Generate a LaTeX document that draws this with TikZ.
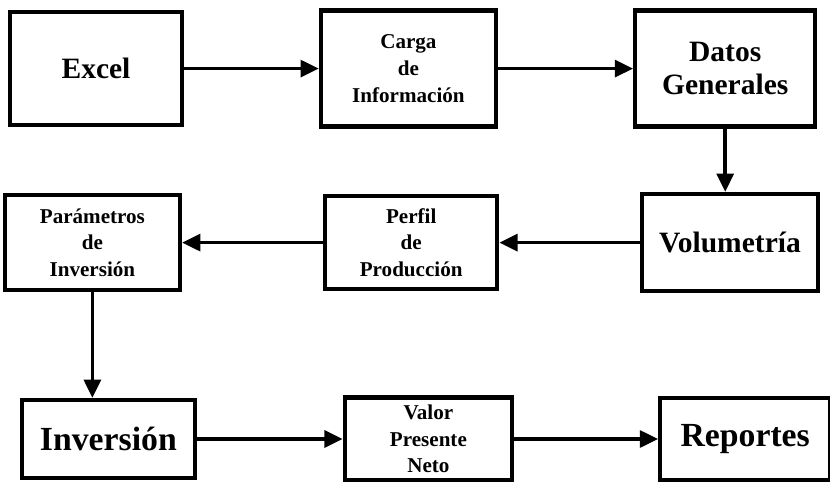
\documentclass[tikz,border=0pt]{standalone}
\usepackage{fontspec}
\setmainfont{Liberation Serif}
\usepackage{tikz}
\usetikzlibrary{arrows.meta,positioning}

\begin{document}
\begin{tikzpicture}[
  stage/.style={rectangle, draw=black, line width=3pt, fill=white, align=center, inner sep=2pt},
  flow/.style={-{Triangle[length=13pt,width=12pt]}, line width=2.5pt},
  bigtext/.style={font=\fontsize{24}{28}\selectfont\bfseries},
  midtext/.style={font=\fontsize{21}{24}\selectfont\bfseries},
  smalltext/.style={font=\fontsize{15}{19}\selectfont\bfseries}
]
  \useasboundingbox (0,0) rectangle (20.75,12.025);

  % first row
  \node[stage, midtext, minimum width=4.3cm, minimum height=2.83cm] (excel) at (2.4, 10.31) {Excel};
  \node[stage, smalltext, minimum width=4.375cm, minimum height=2.9cm] (carga) at (10.21, 10.31) {Carga\\de\\Información};
  \node[stage, midtext, minimum width=4.5cm, minimum height=2.9cm] (datos) at (18.13, 10.31) {Datos\\Generales};

  % second row
  \node[stage, midtext, minimum width=4.4cm, minimum height=2.43cm] (volum) at (18.25, 5.96) {Volumetría};
  \node[stage, smalltext, minimum width=4.3cm, minimum height=2.33cm] (perfil) at (10.28, 5.96) {Perfil\\de\\Producción};
  \node[stage, smalltext, minimum width=4.38cm, minimum height=2.38cm] (param) at (2.31, 5.96) {Parámetros\\de\\Inversión};

  % third row
  \node[stage, bigtext, minimum width=4.33cm, minimum height=1.95cm] (inv) at (2.71, 1.05) {Inversión};
  \node[stage, smalltext, minimum width=4.18cm, minimum height=2.08cm] (valor) at (10.71, 1.05) {Valor\\Presente\\Neto};
  \node[stage, bigtext, minimum width=4.25cm, minimum height=2.05cm] (report) at (18.63, 1.05) {Reportes};

  % connections
  \draw[flow] (excel) -- (carga);
  \draw[flow] (carga) -- (datos);
  \draw[flow] (datos.south) -- (datos.south |- volum.north);
  \draw[flow] (volum) -- (perfil);
  \draw[flow] (perfil) -- (param);
  \draw[flow] (param.south) -- (param.south |- inv.north);
  \draw[flow] (inv) -- (valor);
  \draw[flow] (valor) -- (report);
\end{tikzpicture}
\end{document}
